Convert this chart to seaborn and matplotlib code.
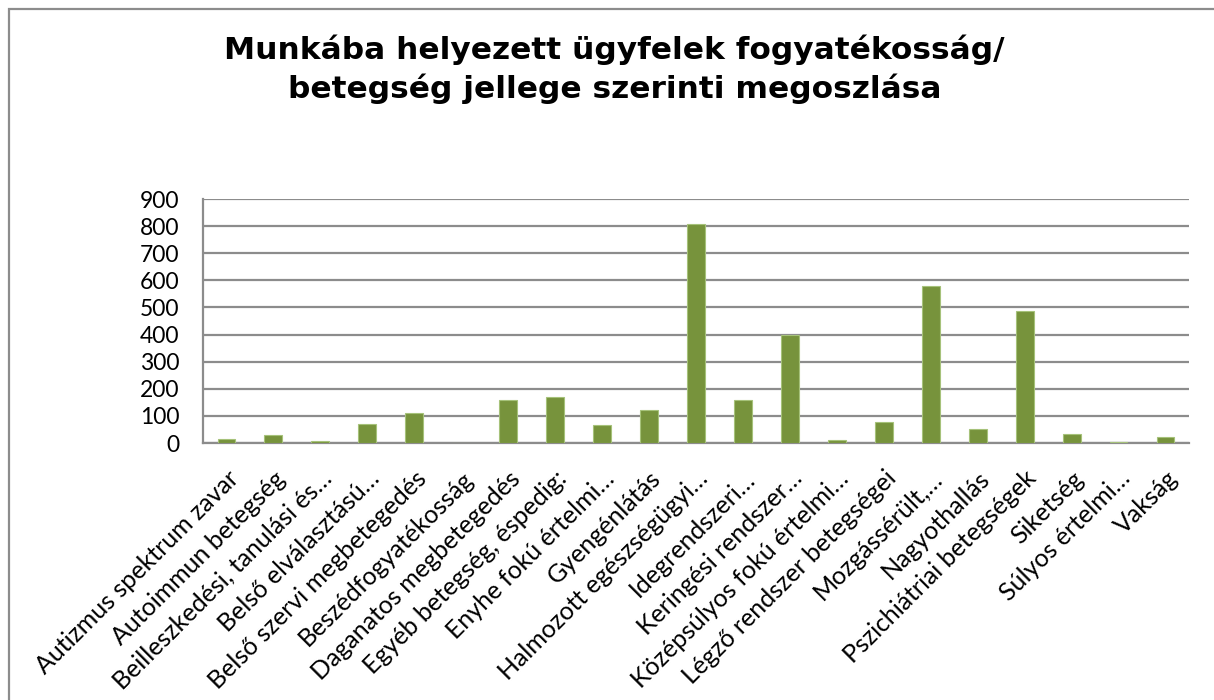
"""Munkába helyezett ügyfelek megoszlása fogyatékosság / betegség jellege szerint."""
import matplotlib
matplotlib.use("Agg")
import matplotlib.pyplot as plt
import matplotlib.patches as mpatches
import pandas as pd
import seaborn as sns

BAR_GREEN = "#77933C"
EDGE_GREEN = "#A6C27A"
GRID_GREY = "#8C8C8C"

TITLE_LINE_1 = "Munkába helyezett ügyfelek fogyatékosság/"
TITLE_LINE_2 = "betegség jellege szerinti megoszlása"

categories = [
    "Autizmus spektrum zavar",
    "Autoimmun betegség",
    "Beilleszkedési, tanulási és…",
    "Belső elválasztású…",
    "Belső szervi megbetegedés",
    "Beszédfogyatékosság",
    "Daganatos megbetegedés",
    "Egyéb betegség, éspedig:",
    "Enyhe fokú értelmi…",
    "Gyengénlátás",
    "Halmozott egészségügyi…",
    "Idegrendszeri…",
    "Keringési rendszer…",
    "Középsúlyos fokú értelmi…",
    "Légző rendszer betegségei",
    "Mozgássérült,…",
    "Nagyothallás",
    "Pszichiátriai betegségek",
    "Siketség",
    "Súlyos értelmi…",
    "Vakság",
]
values = [16, 28, 6, 69, 109, 0, 157, 171, 68, 123,
          808, 160, 397, 12, 76, 580, 53, 487, 32, 2, 23]
y_ticks = list(range(0, 1000, 100))


def main():
    sns.set_style("white")
    plt.rcParams["font.family"] = ["Lato", "DejaVu Sans"]
    plt.rcParams["text.color"] = "black"

    data = pd.DataFrame({"kategoria": categories, "fo": values})

    fig = plt.figure(figsize=(12.14, 7.0), dpi=100)
    ax = fig.add_axes([0.1672, 0.3671, 0.8122, 0.3486])

    sns.barplot(
        data=data,
        x="kategoria",
        y="fo",
        color=BAR_GREEN,
        saturation=1,
        width=0.38,
        edgecolor=EDGE_GREEN,
        linewidth=0.8,
        ax=ax,
        zorder=3,
    )

    ax.set_ylim(0, 900)
    ax.set_yticks(y_ticks)
    ax.set_xlim(-0.5, len(categories) - 0.5)
    ax.yaxis.grid(True, color=GRID_GREY, linewidth=1.6, zorder=0)
    ax.set_axisbelow(True)
    ax.set_xlabel("")
    ax.set_ylabel("")
    for side in ["top", "right"]:
        ax.spines[side].set_visible(False)
    for side in ["left", "bottom"]:
        ax.spines[side].set_color(GRID_GREY)
        ax.spines[side].set_linewidth(1.6)
    ax.tick_params(axis="y", length=0, labelsize=16.5, colors="black", pad=17)
    ax.tick_params(axis="x", length=0, labelsize=18, colors="black", pad=17)
    plt.setp(ax.get_xticklabels(), rotation=45, ha="right", rotation_mode="anchor")

    fig.text(0.506, 1 - 50 / 700, TITLE_LINE_1, ha="center", va="center",
             fontsize=22.5, fontweight="bold", family="DejaVu Sans", color="black")
    fig.text(0.506, 1 - 89 / 700, TITLE_LINE_2, ha="center", va="center",
             fontsize=22.5, fontweight="bold", family="DejaVu Sans", color="black")

    # chart-area frame, cut off at the right and bottom like in the source image
    frame = mpatches.Rectangle((9 / 1214, -0.05), 1.05, 1 - 9 / 700 + 0.05,
                               transform=fig.transFigure, fill=False,
                               edgecolor=GRID_GREY, linewidth=1.6)
    fig.patches.append(frame)

    fig.savefig("out.png", dpi=100)


if __name__ == "__main__":
    main()
